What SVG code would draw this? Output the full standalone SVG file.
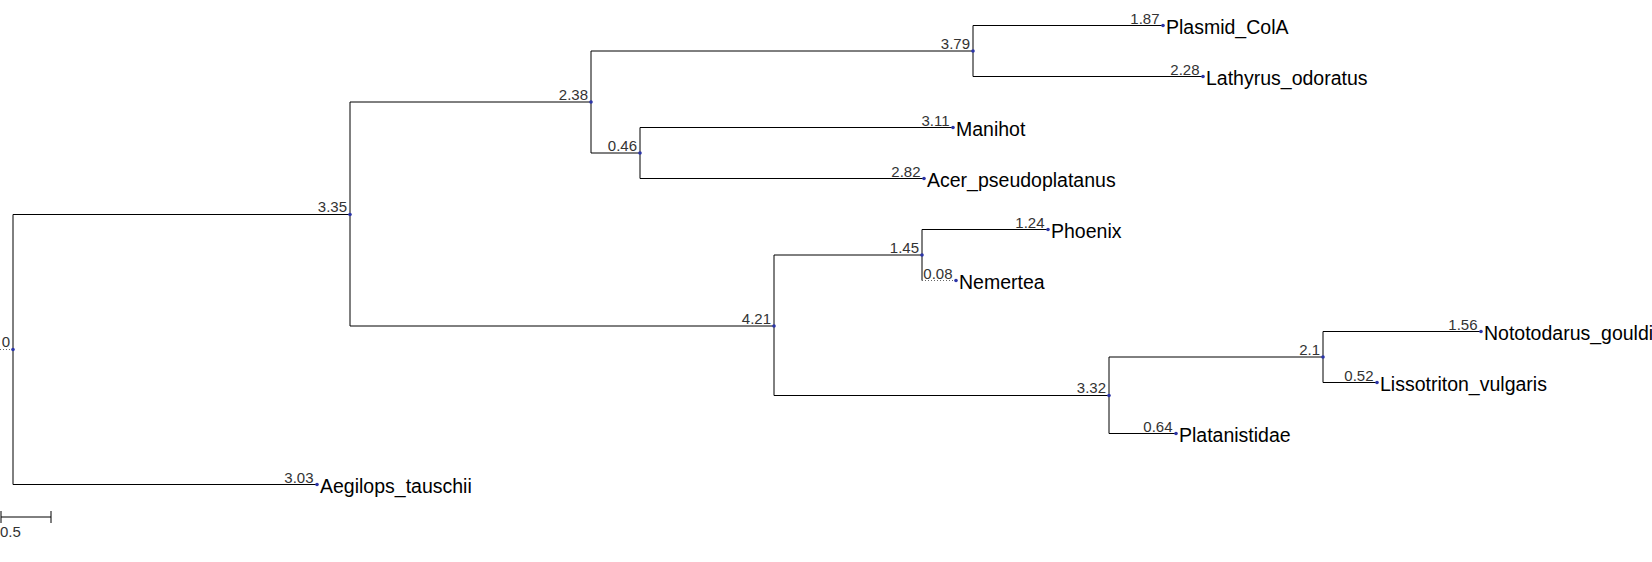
<svg xmlns="http://www.w3.org/2000/svg" width="1652" height="562" viewBox="0 0 1652 562">
<style>
.e{stroke:#000;stroke-width:1;fill:none}
.d{stroke:#666;stroke-width:1;fill:none;stroke-dasharray:1,2}
.b{font-family:"Liberation Sans",Arial,sans-serif;font-size:15px;fill:#333;text-anchor:end}
.n{font-family:"Liberation Sans",Arial,sans-serif;font-size:19.5px;fill:#000}
.p{fill:#2b35a8}
</style>
<rect width="1652" height="562" fill="#fff"/>
<g id="connectors">
<path class="d" d="M0 349.5H13"/>
<path class="e" d="M13 214.5V484.5M13 214.5H350M13 484.5H317"/>
<path class="e" d="M350 102V326M350 102H591M350 326H774"/>
<path class="e" d="M591 51V153M591 51H973M591 153H640"/>
<path class="e" d="M973 25.5V76.5M973 25.5H1163M973 76.5H1203"/>
<path class="e" d="M640 127.5V178.5M640 127.5H953M640 178.5H924"/>
<path class="e" d="M774 255V395.5M774 255H922M774 395.5H1109"/>
<path class="e" d="M922 229.5V280.5M922 229.5H1048"/>
<path class="d" d="M922 280.5H956"/>
<path class="e" d="M1109 357V433.5M1109 357H1323M1109 433.5H1176"/>
<path class="e" d="M1323 331.5V382.5M1323 331.5H1481M1323 382.5H1377"/>
<path class="e" d="M1 517H51M1 511V523M51 511V523" stroke="#555"/>
</g>
<g id="scale"><text class="b" x="0" y="537" style="text-anchor:start">0.5</text></g>
<g id="root"><circle class="p" cx="13" cy="349.5" r="1.8"/><text class="b" x="10" y="347">0</text></g>
<g id="n335"><circle class="p" cx="350" cy="214.5" r="1.8"/><text class="b" x="347" y="212">3.35</text></g>
<g id="n238"><circle class="p" cx="591" cy="102" r="1.8"/><text class="b" x="588" y="99.5">2.38</text></g>
<g id="n379"><circle class="p" cx="973" cy="51" r="1.8"/><text class="b" x="970" y="48.5">3.79</text></g>
<g id="n046"><circle class="p" cx="640" cy="153" r="1.8"/><text class="b" x="637" y="150.5">0.46</text></g>
<g id="n421"><circle class="p" cx="774" cy="326" r="1.8"/><text class="b" x="771" y="323.5">4.21</text></g>
<g id="n145"><circle class="p" cx="922" cy="255" r="1.8"/><text class="b" x="919" y="252.5">1.45</text></g>
<g id="n332"><circle class="p" cx="1109" cy="395.5" r="1.8"/><text class="b" x="1106" y="393">3.32</text></g>
<g id="n21"><circle class="p" cx="1323" cy="357" r="1.8"/><text class="b" x="1320" y="354.5">2.1</text></g>
<g id="Plasmid_ColA"><circle class="p" cx="1163" cy="25.5" r="1.8"/><text class="b" x="1159.5" y="24">1.87</text><text class="n" x="1166" y="34">Plasmid_ColA</text></g>
<g id="Lathyrus_odoratus"><circle class="p" cx="1203" cy="76.5" r="1.8"/><text class="b" x="1199.5" y="75">2.28</text><text class="n" x="1206" y="85">Lathyrus_odoratus</text></g>
<g id="Manihot"><circle class="p" cx="953" cy="127.5" r="1.8"/><text class="b" x="949.5" y="126">3.11</text><text class="n" x="956" y="136">Manihot</text></g>
<g id="Acer_pseudoplatanus"><circle class="p" cx="924" cy="178.5" r="1.8"/><text class="b" x="920.5" y="177">2.82</text><text class="n" x="927" y="187">Acer_pseudoplatanus</text></g>
<g id="Phoenix"><circle class="p" cx="1048" cy="229.5" r="1.8"/><text class="b" x="1044.5" y="228">1.24</text><text class="n" x="1051" y="238">Phoenix</text></g>
<g id="Nemertea"><circle class="p" cx="956" cy="280.5" r="1.8"/><text class="b" x="952.5" y="279">0.08</text><text class="n" x="959" y="289">Nemertea</text></g>
<g id="Nototodarus_gouldi"><circle class="p" cx="1481" cy="331.5" r="1.8"/><text class="b" x="1477.5" y="330">1.56</text><text class="n" x="1484" y="340">Nototodarus_gouldi</text></g>
<g id="Lissotriton_vulgaris"><circle class="p" cx="1377" cy="382.5" r="1.8"/><text class="b" x="1373.5" y="381">0.52</text><text class="n" x="1380" y="391">Lissotriton_vulgaris</text></g>
<g id="Platanistidae"><circle class="p" cx="1176" cy="433.5" r="1.8"/><text class="b" x="1172.5" y="432">0.64</text><text class="n" x="1179" y="442">Platanistidae</text></g>
<g id="Aegilops_tauschii"><circle class="p" cx="317" cy="484.5" r="1.8"/><text class="b" x="313.5" y="483">3.03</text><text class="n" x="320" y="493">Aegilops_tauschii</text></g>
</svg>
